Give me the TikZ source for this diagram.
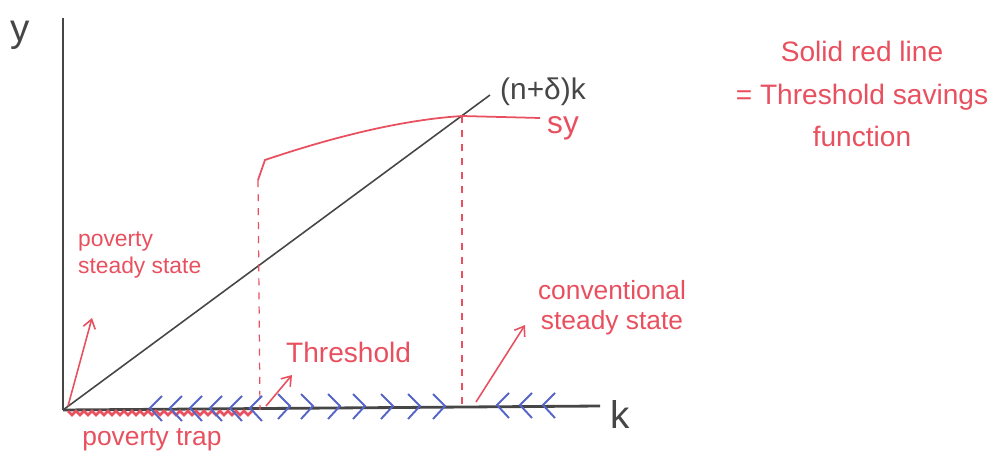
\documentclass[tikz,border=0pt]{standalone}
\usepackage{fontspec}
\setmainfont{Liberation Sans}
\usetikzlibrary{arrows.meta}
\definecolor{pen}{RGB}{232,80,95}
\definecolor{bluepen}{RGB}{85,100,200}
\definecolor{graypen}{RGB}{70,70,70}
\tikzset{
  axisline/.style={line width=1.6pt, draw=graypen},
  redtxt/.style={text=pen, inner sep=1pt},
  redarrow/.style={draw=pen, line width=0.9pt, -{Straight Barb[length=5pt,width=7pt]}},
  dashred/.style={draw=pen, line width=0.7pt, dash pattern=on 4pt off 4pt},
  lchev/.style={draw=bluepen, line width=1.1pt},
}
\begin{document}
\begin{tikzpicture}[x=0.02cm,y=-0.02cm]
\useasboundingbox (0,0) rectangle (1003,459);
% axes
\coordinate (O) at (63,410);
\coordinate (ytop) at (63,18);
\coordinate (xend) at (600,406);
\draw[axisline] (O) -- (ytop);
\draw[axisline] (O) -- (xend);
\node[font=\fontsize{22}{24}\selectfont, text=graypen] (ylab) at (20,35) {y};
\node[font=\fontsize{22}{24}\selectfont, text=graypen] (klab) at (620,414) {k};
% (n+delta)k line
\coordinate (lineend) at (490,95);
\draw[draw=graypen, line width=0.9pt] (O) -- (lineend);
\node[font=\fontsize{17}{19}\selectfont, text=graypen, anchor=west] (nlab) at (494,92) {(n+δ)k};
% savings curve
\coordinate (s0) at (258,180);
\coordinate (s1) at (265,160);
\coordinate (s2) at (462,116);
\coordinate (s3) at (540,118);
\draw[draw=pen, line width=1pt] (s0) -- (s1) .. controls (330,138) and (400,120) .. (s2) -- (s3);
\node[font=\fontsize{18}{20}\selectfont, text=pen, anchor=west] (sylab) at (541,128) {sy};
% dashed verticals
\coordinate (t0) at (260,410);
\coordinate (c0) at (462,406);
\draw[dashred] (s0) -- (t0);
\draw[dashred] (s2) -- (c0);
% poverty trap scribble
\draw[draw=pen, line width=1.5pt] (68,411)
  \foreach \i in {0,...,22} { -- ++(4,4) -- ++(4,-4) } ;
% blue chevrons
\foreach \x in {150,170,190,210,230,250} {
  \draw[lchev] (\x+12,396) -- (\x,408) -- (\x+12,421);
}
\foreach \x in {290,313,340,365,393,420,445} {
  \draw[lchev] (\x-12,394) -- (\x,406) -- (\x-12,419);
}
\foreach \x in {497,520,543} {
  \draw[lchev] (\x+12,393) -- (\x,405) -- (\x+12,418);
}
% labels with arrows
\node[redtxt, font=\fontsize{13}{15}\selectfont, align=left, anchor=north west] (pss) at (76,230) {poverty\\steady state};
\coordinate (pssa) at (92,318);
\draw[redarrow] (68,406) -- (pssa);
\node[redtxt, font=\fontsize{16}{18}\selectfont, anchor=west] (thr) at (284,352) {Threshold};
\coordinate (thra) at (292,375);
\draw[redarrow] (266,406) -- (thra);
\node[redtxt, font=\fontsize{15}{17}\selectfont, align=center] (css) at (612,308) {conventional\\steady state};
\coordinate (cssa) at (525,325);
\draw[redarrow] (476,402) -- (cssa);
\node[redtxt, font=\fontsize{15}{17}\selectfont] (ptrap) at (152,440) {poverty trap};
% legend
\node[redtxt, font=\fontsize{16}{24}\selectfont, align=center] (legend) at (862,94) {Solid red line\\= Threshold savings\\function};
\end{tikzpicture}
\end{document}
